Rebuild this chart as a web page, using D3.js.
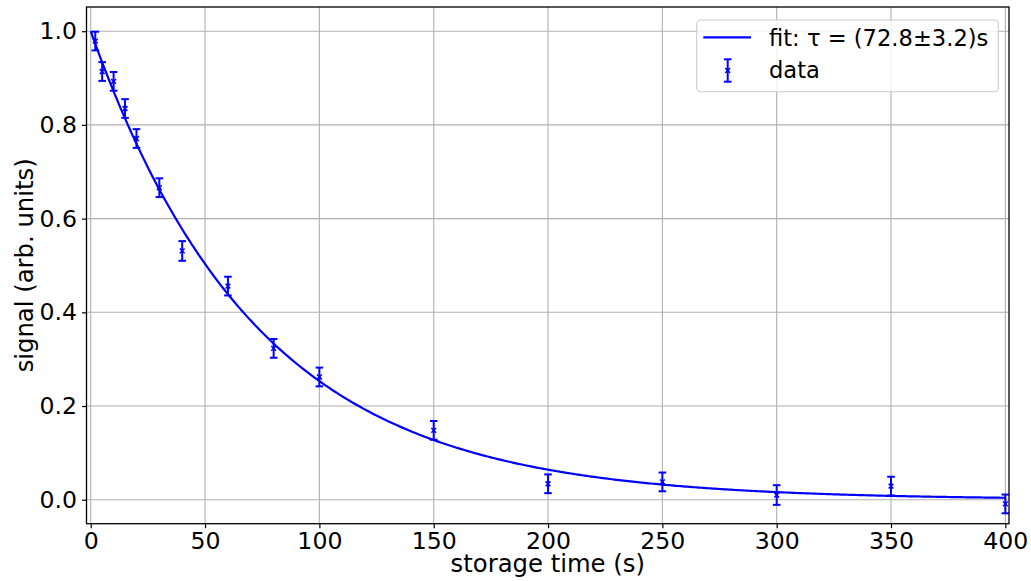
<!DOCTYPE html>
<html>
<head>
<meta charset="utf-8">
<script src="https://cdn.jsdelivr.net/npm/d3@7"></script>
<style>
  html, body { margin: 0; padding: 0; background: #fff; }
  svg { display: block; font-family: "DejaVu Sans", sans-serif; }
</style>
</head>
<body>
<svg id="chart" width="1031" height="581"></svg>
<script>
// Storage time measurements (s), normalised signal and its uncertainty
const storageTime = [2, 5, 10, 15, 20, 30, 40, 60, 80, 100, 150, 200, 250, 300, 350, 400];
const signal      = [0.979, 0.914, 0.893, 0.835, 0.771, 0.666, 0.531, 0.456, 0.323, 0.262, 0.148, 0.034, 0.038, 0.010, 0.029, -0.009];
const signalErr   = [0.020, 0.020, 0.020, 0.020, 0.020, 0.020, 0.021, 0.020, 0.020, 0.020, 0.020, 0.020, 0.020, 0.021, 0.020, 0.020];

// Exponential decay fit parameters
const fitAmplitude = 1.0;
const fitTau = 72.8;
const fitTauErr = 3.2;

// Axis ticks
const xTicks = [0, 50, 100, 150, 200, 250, 300, 350, 400];
const yTicks = [0.0, 0.2, 0.4, 0.6, 0.8, 1.0];

const svg = d3.select("#chart");
const plot = { left: 86.5, right: 1009, top: 7, bottom: 523.7 };

const x = d3.scaleLinear().domain([-1.85, 401.6]).range([plot.left, plot.right]);
const y = d3.scaleLinear().domain([-0.0512, 1.0517]).range([plot.bottom, plot.top]);

const blue = "#0000ff";
const gridColor = "#b0b0b0";

// Grid
const grid = svg.append("g");
grid.selectAll("line.gx").data(xTicks).join("line")
  .attr("x1", d => x(d)).attr("x2", d => x(d))
  .attr("y1", plot.top).attr("y2", plot.bottom)
  .attr("stroke", gridColor).attr("stroke-width", 1.1);
grid.selectAll("line.gy").data(yTicks).join("line")
  .attr("y1", d => y(d)).attr("y2", d => y(d))
  .attr("x1", plot.left).attr("x2", plot.right)
  .attr("stroke", gridColor).attr("stroke-width", 1.1);

// Fitted curve
const fitT = d3.range(0, 400.5, 1);
const fitLine = d3.line()
  .x(t => x(t))
  .y(t => y(fitAmplitude * Math.exp(-t / fitTau)));
svg.append("path")
  .datum(fitT)
  .attr("d", fitLine)
  .attr("fill", "none")
  .attr("stroke", blue)
  .attr("stroke-width", 2.2);

// Error bars with caps and x markers
const pts = storageTime.map((t, i) => ({ t, v: signal[i], e: signalErr[i] }));
const capW = 3.8;
const eb = svg.append("g").attr("stroke", blue).attr("stroke-width", 2);
const g = eb.selectAll("g").data(pts).join("g");
g.append("line")
  .attr("x1", d => x(d.t)).attr("x2", d => x(d.t))
  .attr("y1", d => y(d.v - d.e)).attr("y2", d => y(d.v + d.e));
g.append("line")
  .attr("x1", d => x(d.t) - capW).attr("x2", d => x(d.t) + capW)
  .attr("y1", d => y(d.v + d.e)).attr("y2", d => y(d.v + d.e));
g.append("line")
  .attr("x1", d => x(d.t) - capW).attr("x2", d => x(d.t) + capW)
  .attr("y1", d => y(d.v - d.e)).attr("y2", d => y(d.v - d.e));
const m = 2.4;
g.append("path")
  .attr("d", d => {
    const cx = x(d.t), cy = y(d.v);
    return `M${cx - m},${cy - m}L${cx + m},${cy + m}M${cx - m},${cy + m}L${cx + m},${cy - m}`;
  })
  .attr("stroke-width", 1.5);

// Axes frame
svg.append("rect")
  .attr("x", plot.left).attr("y", plot.top)
  .attr("width", plot.right - plot.left).attr("height", plot.bottom - plot.top)
  .attr("fill", "none").attr("stroke", "#000").attr("stroke-width", 1.3);

// X axis
const xAxis = d3.axisBottom(x).tickValues(xTicks).tickSize(4.5).tickPadding(4)
  .tickFormat(d3.format("d"));
const gx = svg.append("g").attr("transform", `translate(0,${plot.bottom})`).call(xAxis);
gx.select(".domain").remove();
gx.selectAll(".tick line").attr("stroke", "#000").attr("stroke-width", 1.2);
gx.selectAll(".tick text")
  .attr("fill", "#000")
  .style("font-family", "DejaVu Sans")
  .style("font-size", "23.6px");

// Y axis
const yAxis = d3.axisLeft(y).tickValues(yTicks).tickSize(4.5).tickPadding(5)
  .tickFormat(d3.format(".1f"));
const gy = svg.append("g").attr("transform", `translate(${plot.left},0)`).call(yAxis);
gy.select(".domain").remove();
gy.selectAll(".tick line").attr("stroke", "#000").attr("stroke-width", 1.2);
gy.selectAll(".tick text")
  .attr("fill", "#000")
  .style("font-family", "DejaVu Sans")
  .style("font-size", "23.6px");

// Axis titles
svg.append("text")
  .attr("x", (plot.left + plot.right) / 2).attr("y", 572)
  .attr("text-anchor", "middle")
  .style("font-size", "24.3px")
  .text("storage time (s)");
svg.append("text")
  .attr("transform", `translate(32.5,${(plot.top + plot.bottom) / 2}) rotate(-90)`)
  .attr("text-anchor", "middle")
  .style("font-size", "24.3px")
  .text("signal (arb. units)");

// Legend
const lg = svg.append("g");
lg.append("rect")
  .attr("x", 696.7).attr("y", 20).attr("width", 301.6).attr("height", 71.7)
  .attr("rx", 4).attr("ry", 4)
  .attr("fill", "#fff").attr("fill-opacity", 0.8)
  .attr("stroke", "#cccccc").attr("stroke-width", 1.1);
lg.append("line")
  .attr("x1", 703.3).attr("x2", 751).attr("y1", 37.3).attr("y2", 37.3)
  .attr("stroke", blue).attr("stroke-width", 2.2);
lg.append("text")
  .attr("x", 769).attr("y", 46)
  .style("font-size", "22.6px")
  .text(`fit: τ = (${fitTau.toFixed(1)}±${fitTauErr.toFixed(1)})s`);
const li = lg.append("g").attr("stroke", blue).attr("stroke-width", 2);
const lx = 727.7, ly0 = 59.3, ly1 = 81.7, lyc = (ly0 + ly1) / 2;
li.append("line").attr("x1", lx).attr("x2", lx).attr("y1", ly0).attr("y2", ly1);
li.append("line").attr("x1", lx - capW).attr("x2", lx + capW).attr("y1", ly0).attr("y2", ly0);
li.append("line").attr("x1", lx - capW).attr("x2", lx + capW).attr("y1", ly1).attr("y2", ly1);
li.append("path")
  .attr("d", `M${lx - m},${lyc - m}L${lx + m},${lyc + m}M${lx - m},${lyc + m}L${lx + m},${lyc - m}`)
  .attr("stroke-width", 1.5);
lg.append("text")
  .attr("x", 769).attr("y", 78.3)
  .style("font-size", "22.6px")
  .text("data");
</script>
</body>
</html>
